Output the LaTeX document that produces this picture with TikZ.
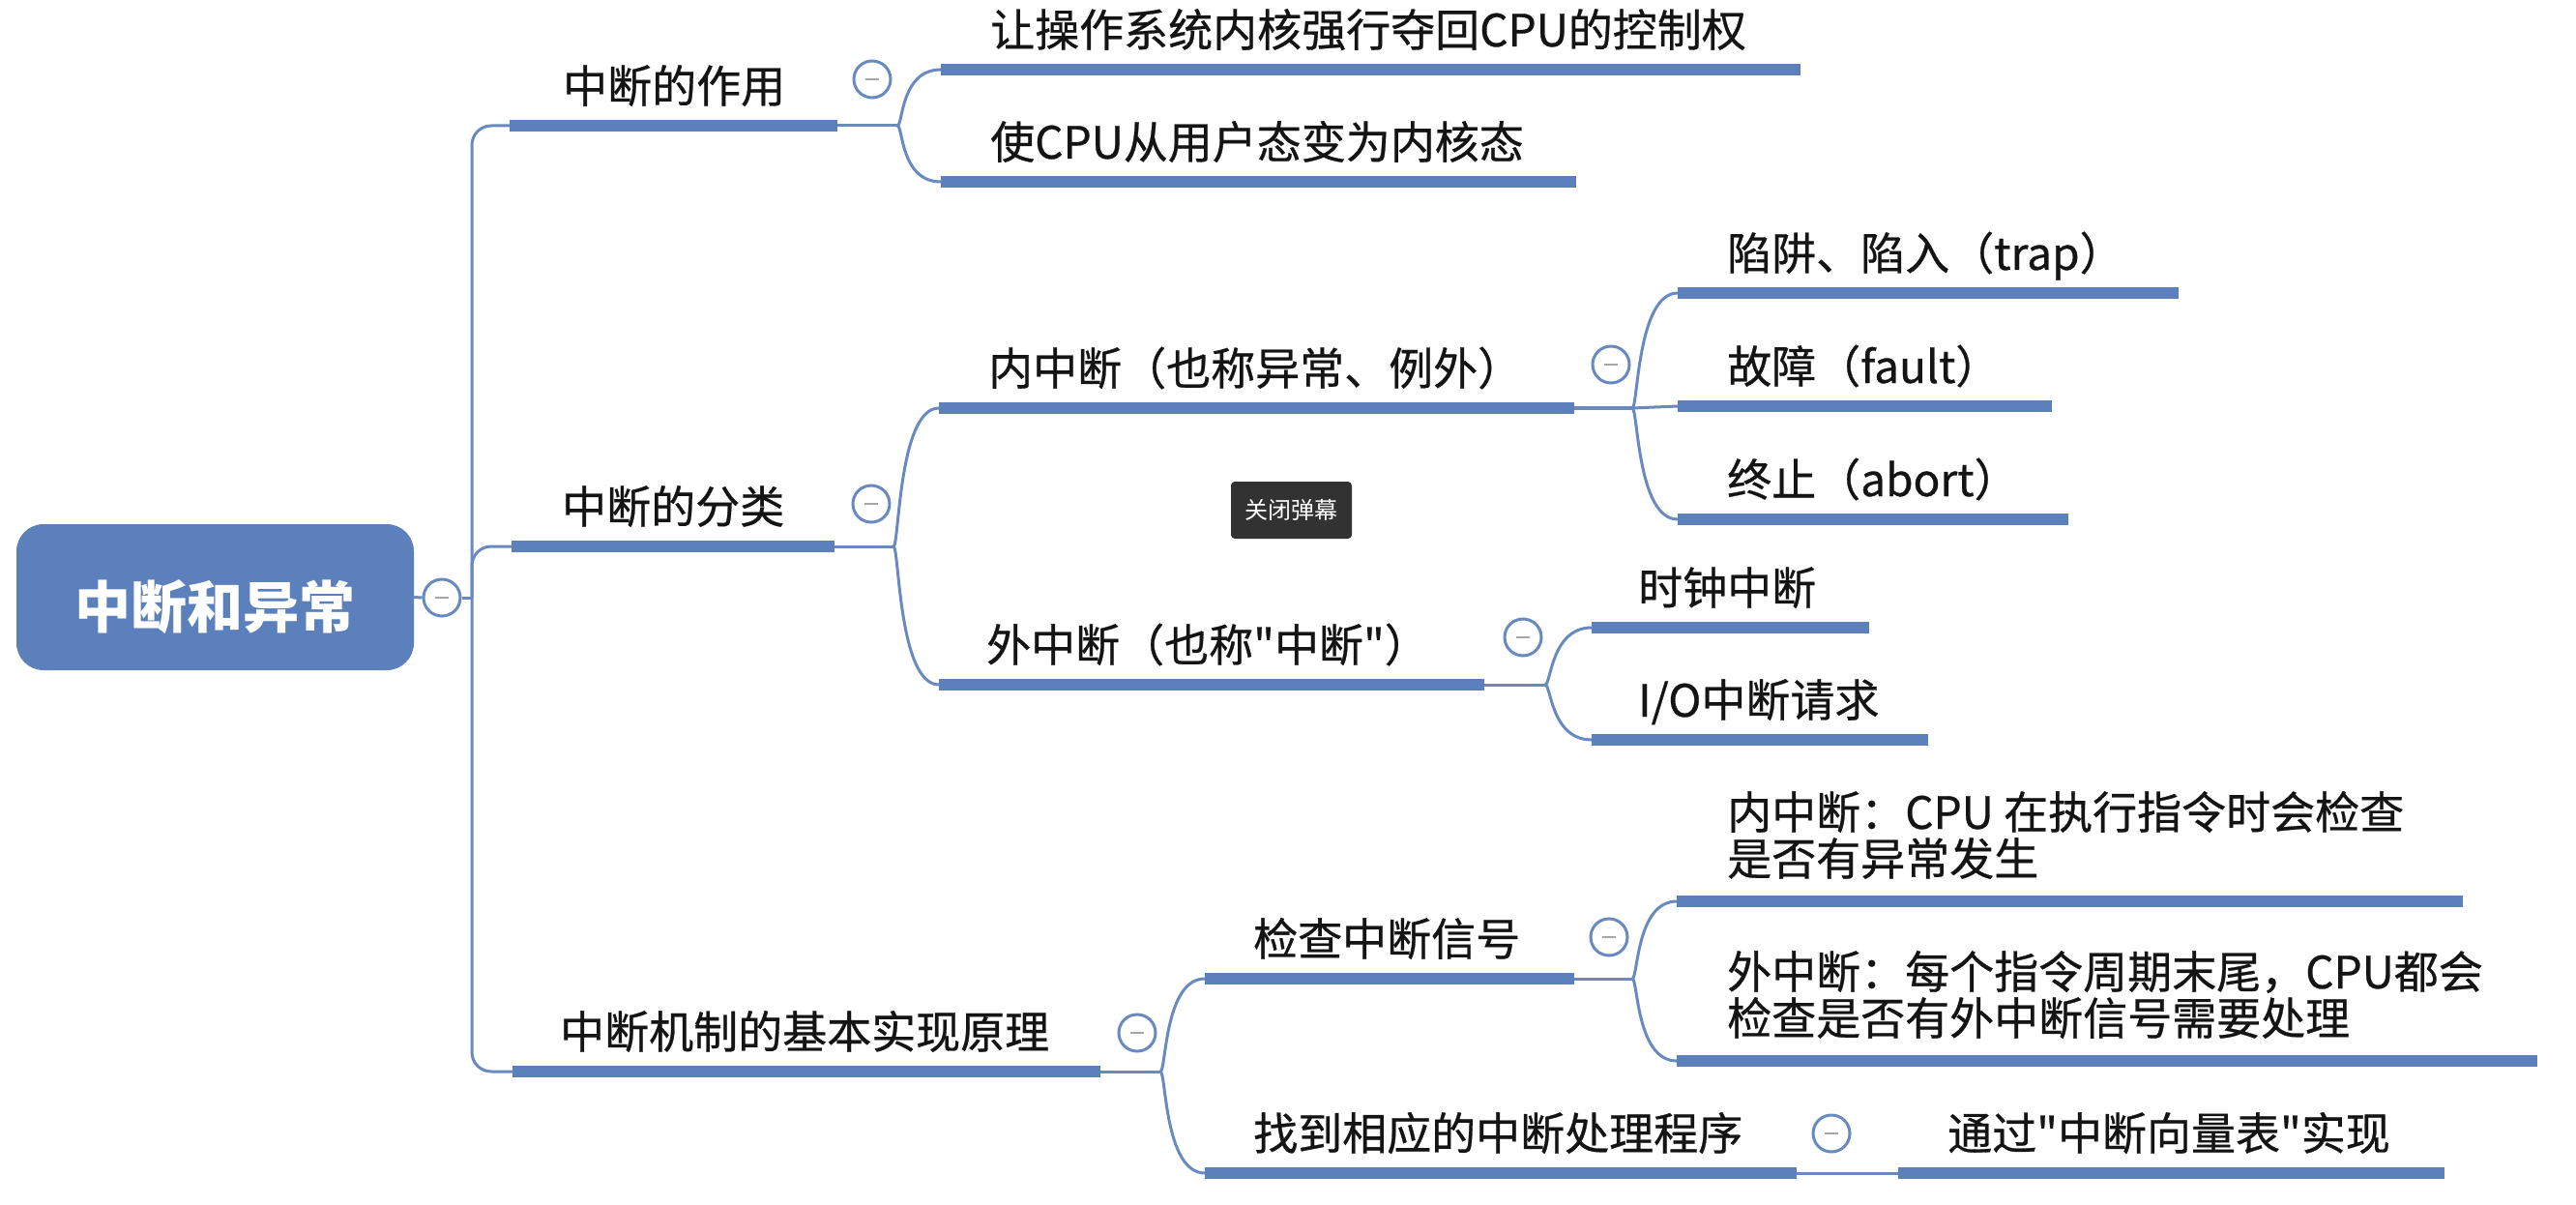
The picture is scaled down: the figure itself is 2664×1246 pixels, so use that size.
\documentclass[tikz,border=0pt]{standalone}
\usepackage{fontspec}
\newfontfamily\cjk{Noto Sans CJK SC}
\newfontfamily\cjkm{Noto Sans CJK SC}[FakeBold=0.6]
\definecolor{mblue}{RGB}{92,128,187}
\definecolor{lblue}{RGB}{104,138,192}
\definecolor{txtc}{RGB}{20,20,20}
\definecolor{popc}{RGB}{50,50,50}
\tikzset{
  ul/.style={rectangle, fill=mblue, draw=none, inner sep=0pt, minimum height=12pt, anchor=west},
  txt/.style={anchor=base west, inner sep=0pt, font=\cjkm\fontsize{46}{49}\selectfont, text=txtc},
  tog/.style={circle, draw=lblue, line width=3pt, fill=white, minimum size=38pt, inner sep=0pt,
     path picture={\draw[gray!70, line width=2.5pt] ([xshift=-7pt]path picture bounding box.center) -- ([xshift=7pt]path picture bounding box.center);}},
  conn/.style={draw=lblue, line width=3pt},
  fan/.style={conn},
  rootbox/.style={rectangle, fill=mblue, draw=none, rounded corners=28pt, minimum width=411pt, minimum height=151pt, inner sep=0pt},
  roottxt/.style={anchor=base, inner sep=0pt, font=\cjk\bfseries\fontsize{58}{60}\selectfont, text=white},
}
\begin{document}
\begin{tikzpicture}[x=1pt,y=-1pt]
\path[use as bounding box, fill=white] (0,0) rectangle (2664,1246);

% root
\node[rootbox] (R) at (222.5,617.5) {};
\node[roottxt] (Rt) at (222,649) {中断和异常};

% underlines
\node[ul, minimum width=339pt] (u1) at (527,130) {};
\node[ul, minimum width=889pt] (u11) at (973,72) {};
\node[ul, minimum width=657pt] (u12) at (973,188) {};
\node[ul, minimum width=334pt] (u2) at (529,565) {};
\node[ul, minimum width=657pt] (u21) at (971,422) {};
\node[ul, minimum width=518pt] (u211) at (1735,303) {};
\node[ul, minimum width=387pt] (u212) at (1735,420) {};
\node[ul, minimum width=404pt] (u213) at (1735,537) {};
\node[ul, minimum width=564pt] (u22) at (971,708) {};
\node[ul, minimum width=287pt] (u221) at (1646,649) {};
\node[ul, minimum width=348pt] (u222) at (1646,765) {};
\node[ul, minimum width=608pt] (u3) at (530,1108) {};
\node[ul, minimum width=382pt] (u31) at (1246,1012) {};
\node[ul, minimum width=813pt] (u311) at (1734,932) {};
\node[ul, minimum width=890pt] (u312) at (1734,1097) {};
\node[ul, minimum width=612pt] (u32) at (1246,1213) {};
\node[ul, minimum width=565pt] (u321) at (1963,1213) {};

% texts
\node[txt] (t1) at (582,106) {中断的作用};
\node[txt] (t11) at (1024,48) {让操作系统内核强行夺回CPU的控制权};
\node[txt] (t12) at (1024,164) {使CPU从用户态变为内核态};
\node[txt] (t2) at (581,541) {中断的分类};
\node[txt] (t21) at (1022,398) {内中断（也称异常、例外）};
\node[txt] (t211) at (1786,279) {陷阱、陷入（trap）};
\node[txt] (t212) at (1786,396) {故障（fault）};
\node[txt] (t213) at (1786,513) {终止（abort）};
\node[txt] (t22) at (1020,684) {外中断（也称"中断"）};
\node[txt] (t221) at (1694,625) {时钟中断};
\node[txt] (t222) at (1694,741) {I/O中断请求};
\node[txt] (t3) at (579,1084) {中断机制的基本实现原理};
\node[txt] (t31) at (1296,988) {检查中断信号};
\node[txt] (t311a) at (1786,857) {内中断：CPU 在执行指令时会检查};
\node[txt] (t311b) at (1786,905) {是否有异常发生};
\node[txt] (t312a) at (1786,1022) {外中断：每个指令周期末尾，CPU都会};
\node[txt] (t312b) at (1786,1070) {检查是否有外中断信号需要处理};
\node[txt] (t32) at (1296,1189) {找到相应的中断处理程序};
\node[txt] (t321) at (2014,1189) {通过"中断向量表"实现};

% junction points
\coordinate (tr) at (488,618);
\coordinate (j1) at (928,130);
\coordinate (j2) at (924,565);
\coordinate (j21) at (1688,422);
\coordinate (j22) at (1598,708);
\coordinate (j3) at (1200,1108);
\coordinate (j31) at (1688,1012);

% toggles
\node[tog] (c0) at (457,618) {};
\node[tog] (c1) at (902,82) {};
\node[tog] (c2) at (901,521) {};
\node[tog] (c21) at (1666,377) {};
\node[tog] (c22) at (1575,659) {};
\node[tog] (c3) at (1176,1068) {};
\node[tog] (c31) at (1664,969) {};
\node[tog] (c32) at (1894,1172) {};

% trunk
\draw[conn] (R.east) -- (c0.west);
\draw[conn] (c0.east) -- (tr);
\draw[conn, rounded corners=20pt] (u1.west) -| (tr) |- (u3.west);
\draw[conn, rounded corners=20pt] (tr) |- (u2.west);

% fans
\draw[conn] (u1.east) -- (j1);
\draw[fan] (j1) .. controls +(6,0) and +(-42,0) .. (u11.west);
\draw[fan] (j1) .. controls +(6,0) and +(-42,0) .. (u12.west);

\draw[conn] (u2.east) -- (j2);
\draw[fan] (j2) .. controls +(6,0) and +(-42,0) .. (u21.west);
\draw[fan] (j2) .. controls +(6,0) and +(-42,0) .. (u22.west);

\draw[conn] (u21.east) -- (j21);
\draw[fan] (j21) .. controls +(6,0) and +(-42,0) .. (u211.west);
\draw[fan] (j21) -- (u212.west);
\draw[fan] (j21) .. controls +(6,0) and +(-42,0) .. (u213.west);

\draw[conn] (u22.east) -- (j22);
\draw[fan] (j22) .. controls +(6,0) and +(-42,0) .. (u221.west);
\draw[fan] (j22) .. controls +(6,0) and +(-42,0) .. (u222.west);

\draw[conn] (u3.east) -- (j3);
\draw[fan] (j3) .. controls +(6,0) and +(-42,0) .. (u31.west);
\draw[fan] (j3) .. controls +(6,0) and +(-42,0) .. (u32.west);

\draw[conn] (u31.east) -- (j31);
\draw[fan] (j31) .. controls +(6,0) and +(-42,0) .. (u311.west);
\draw[fan] (j31) .. controls +(6,0) and +(-42,0) .. (u312.west);

\draw[conn] (u32.east) -- (u321.west);

% popup overlay
\node[rectangle, fill=popc, rounded corners=4pt, minimum width=125pt, minimum height=59pt, inner sep=0pt] (pop) at (1335.5,527.5) {};
\node[anchor=base, inner sep=0pt, font=\cjk\fontsize{24}{26}\selectfont, text=white] (popt) at (1335,536) {关闭弹幕};
\end{tikzpicture}
\end{document}
